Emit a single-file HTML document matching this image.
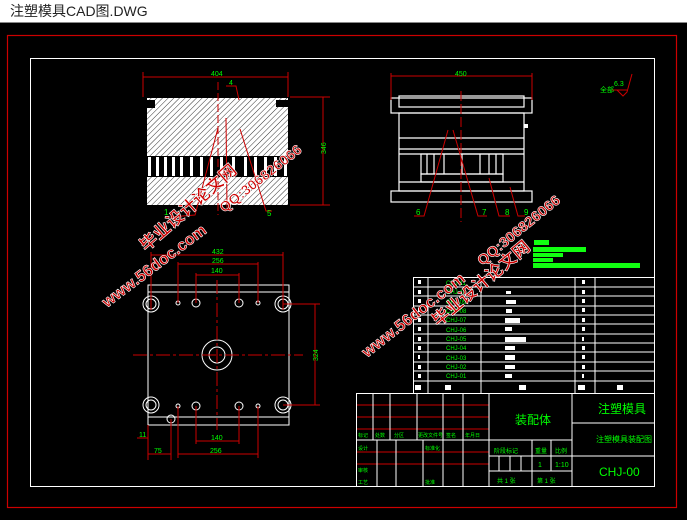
<!DOCTYPE html>
<html><head><meta charset="utf-8"><style>
html,body{margin:0;padding:0;background:#000;width:687px;height:520px;overflow:hidden}
svg{display:block}
text{font-family:"Liberation Sans","Noto Sans CJK SC",sans-serif}
</style></head><body>
<svg width="687" height="520" viewBox="0 0 687 520" xmlns="http://www.w3.org/2000/svg">
<defs>
<pattern id="h" width="4" height="4" patternUnits="userSpaceOnUse" patternTransform="rotate(45)">
<rect width="4" height="4" fill="#fff"/><line x1="0" y1="0" x2="0" y2="4" stroke="#000" stroke-width="0.8"/>
</pattern>
</defs>
<rect x="0" y="0" width="687" height="22" fill="#fff"/>
<line x1="0" y1="22.5" x2="687" y2="22.5" stroke="#888"/>
<text x="10" y="16" font-size="14" fill="#222">注塑模具CAD图.DWG</text>
<rect x="0" y="23" width="687" height="497" fill="#000"/>
<rect x="7.5" y="35.5" width="669" height="472" fill="none" stroke="#c00" stroke-width="1.2"/>
<rect x="30.5" y="58.5" width="624" height="428" fill="none" stroke="#fff"/>

<!-- section view -->
<g>
<rect x="147" y="98" width="141" height="58" fill="url(#h)"/>
<rect x="147" y="156" width="141" height="21" fill="#000"/>
<g fill="#fff">
<rect x="148" y="157" width="3" height="19"/><rect x="156" y="157" width="3" height="19"/><rect x="164" y="157" width="3" height="19"/><rect x="172" y="157" width="3" height="19"/><rect x="180" y="157" width="3" height="19"/><rect x="190" y="157" width="3" height="19"/><rect x="200" y="157" width="3" height="19"/><rect x="210" y="157" width="3" height="19"/><rect x="220" y="157" width="3" height="19"/><rect x="232" y="157" width="3" height="19"/><rect x="244" y="157" width="3" height="19"/><rect x="254" y="157" width="3" height="19"/><rect x="264" y="157" width="3" height="19"/><rect x="274" y="157" width="3" height="19"/><rect x="284" y="157" width="3" height="19"/>
</g>
<rect x="147" y="177" width="141" height="28" fill="url(#h)"/>
<rect x="147" y="100" width="8" height="8" fill="#000"/>
<rect x="276" y="100" width="12" height="7" fill="#000"/>
</g>
<g stroke="#c00" stroke-width="1" fill="none">
<line x1="143" y1="72" x2="143" y2="97"/><line x1="288" y1="72" x2="288" y2="97"/>
<line x1="143" y1="77" x2="288" y2="77"/>
<line x1="290" y1="97" x2="330" y2="97"/><line x1="290" y1="205" x2="330" y2="205"/>
<line x1="323" y1="97" x2="323" y2="205"/>
<line x1="218" y1="82" x2="218" y2="215" stroke-dasharray="8,3"/>
<path d="M226,86 L236,86 L239,100"/>
<path d="M218,128 L195,215 L170,217"/>
<path d="M240,129 L266,211 L272,211"/>
<path d="M226,118 L227,208"/>
</g>
<text x="211" y="76" font-size="7" fill="#0f0">404</text>
<text x="229" y="85" font-size="7" fill="#0f0">4</text>
<text x="326" y="154" font-size="7" fill="#0f0" transform="rotate(-90 326 154)" >346</text>
<text x="164" y="215" font-size="8" fill="#0f0">1</text>
<text x="267" y="216" font-size="8" fill="#0f0">5</text>

<!-- right view -->
<g stroke="#fff" stroke-width="1.2" fill="none">
<rect x="391" y="98" width="141" height="15"/>
<rect x="399" y="96" width="125" height="11"/>
<rect x="399" y="113" width="125" height="78"/>
<line x1="399" y1="138" x2="524" y2="138"/>
<line x1="399" y1="149" x2="524" y2="149"/>
<line x1="399" y1="154" x2="524" y2="154"/>
<rect x="421" y="154" width="82" height="20"/>
<line x1="427" y1="154" x2="427" y2="174"/><line x1="434" y1="154" x2="434" y2="174"/><line x1="444" y1="154" x2="444" y2="174"/>
<line x1="462" y1="154" x2="462" y2="174"/><line x1="480" y1="154" x2="480" y2="174"/><line x1="489" y1="154" x2="489" y2="174"/><line x1="496" y1="154" x2="496" y2="174"/>
<rect x="421" y="174" width="82" height="8"/>
<line x1="399" y1="182" x2="524" y2="182"/>
<rect x="391" y="191" width="141" height="11"/>
</g>
<rect x="524" y="124" width="4" height="4" fill="#fff"/>
<g stroke="#c00" stroke-width="1" fill="none">
<line x1="391" y1="73" x2="391" y2="100"/><line x1="532" y1="73" x2="532" y2="100"/>
<line x1="391" y1="76" x2="532" y2="76"/>
<line x1="461" y1="91" x2="461" y2="222" stroke-dasharray="10,3"/>
<path d="M448,130 L424,216 L414,216"/>
<path d="M453,130 L478,216 L487,216"/>
<path d="M489,178 L499,216 L510,216"/>
<path d="M510,187 L518,216 L525,216"/>
<path d="M617,90 L623,96 L627,92 L632,74"/>
<line x1="612" y1="90" x2="627" y2="90"/>
</g>
<text x="455" y="76" font-size="7" fill="#0f0">450</text>
<text x="416" y="215" font-size="8" fill="#0f0">6</text>
<text x="482" y="215" font-size="8" fill="#0f0">7</text>
<text x="505" y="215" font-size="8" fill="#0f0">8</text>
<text x="524" y="215" font-size="8" fill="#0f0">9</text>
<text x="600" y="92" font-size="7" fill="#0f0">全部</text>
<text x="614" y="86" font-size="7" fill="#0f0">6.3</text>
<g fill="#1f1">
<rect x="534" y="240" width="15" height="5"/>
<rect x="533" y="247" width="53" height="5"/>
<rect x="533" y="253" width="30" height="4"/>
<rect x="533" y="258" width="20" height="4"/>
<rect x="533" y="263" width="107" height="5"/>
</g>

<!-- plan view -->
<g stroke="#fff" stroke-width="1" fill="none">
<rect x="148" y="285" width="141" height="140"/>
<line x1="148" y1="292" x2="289" y2="292"/>
<line x1="148" y1="417" x2="289" y2="417"/>
<circle cx="151" cy="304" r="8"/><circle cx="151" cy="304" r="5"/>
<circle cx="283" cy="304" r="8"/><circle cx="283" cy="304" r="5"/>
<circle cx="151" cy="405" r="8"/><circle cx="151" cy="405" r="5"/>
<circle cx="283" cy="405" r="8"/><circle cx="283" cy="405" r="5"/>
<circle cx="217" cy="355" r="15"/><circle cx="217" cy="355" r="8"/>
<circle cx="178" cy="303" r="2"/><circle cx="196" cy="303" r="4"/><circle cx="239" cy="303" r="4"/><circle cx="258" cy="303" r="2"/>
<circle cx="178" cy="406" r="2"/><circle cx="196" cy="406" r="4"/><circle cx="239" cy="406" r="4"/><circle cx="258" cy="406" r="2"/>
<circle cx="171" cy="419" r="4"/>
</g>
<g stroke="#c00" stroke-width="1" fill="none">
<line x1="133" y1="355" x2="303" y2="355" stroke-dasharray="14,3,3,3"/>
<line x1="217" y1="280" x2="217" y2="430" stroke-dasharray="14,3,3,3"/>
<line x1="151" y1="252" x2="151" y2="310"/><line x1="283" y1="252" x2="283" y2="310"/>
<line x1="151" y1="255" x2="283" y2="255"/>
<line x1="178" y1="262" x2="178" y2="303"/><line x1="258" y1="262" x2="258" y2="303"/>
<line x1="178" y1="264" x2="258" y2="264"/>
<line x1="196" y1="273" x2="196" y2="303"/><line x1="239" y1="273" x2="239" y2="303"/>
<line x1="196" y1="275" x2="239" y2="275"/>
<line x1="283" y1="304" x2="320" y2="304"/><line x1="283" y1="405" x2="320" y2="405"/>
<line x1="315" y1="304" x2="315" y2="405"/>
<line x1="196" y1="406" x2="196" y2="444"/><line x1="239" y1="406" x2="239" y2="444"/>
<line x1="196" y1="441" x2="239" y2="441"/>
<line x1="178" y1="406" x2="178" y2="458"/><line x1="258" y1="406" x2="258" y2="458"/>
<line x1="178" y1="454" x2="258" y2="454"/>
<line x1="148" y1="425" x2="148" y2="460"/><line x1="171" y1="419" x2="171" y2="460"/>
<line x1="148" y1="454" x2="171" y2="454"/>
<line x1="137" y1="438" x2="148" y2="438"/>
</g>
<g font-size="7" fill="#0f0">
<text x="212" y="254">432</text><text x="212" y="263">256</text><text x="211" y="273">140</text>
<text x="211" y="440">140</text><text x="210" y="453">256</text><text x="154" y="453">75</text>
<text x="139" y="437">11</text>
<text x="318" y="361" transform="rotate(-90 318 361)">324</text>
</g>

<!-- parts list -->
<g stroke="#fff" stroke-width="1" fill="none">
<rect x="413.5" y="277.5" width="241" height="116"/>
<line x1="428" y1="277" x2="428" y2="393"/><line x1="481" y1="277" x2="481" y2="393"/>
<line x1="575" y1="277" x2="575" y2="393"/><line x1="595" y1="277" x2="595" y2="393"/>
<line x1="413" y1="287" x2="655" y2="287"/><line x1="413" y1="296" x2="655" y2="296"/>
<line x1="413" y1="306" x2="655" y2="306"/><line x1="413" y1="315" x2="655" y2="315"/>
<line x1="413" y1="324" x2="655" y2="324"/><line x1="413" y1="334" x2="655" y2="334"/>
<line x1="413" y1="343" x2="655" y2="343"/><line x1="413" y1="352" x2="655" y2="352"/>
<line x1="413" y1="362" x2="655" y2="362"/><line x1="413" y1="371" x2="655" y2="371"/>
<line x1="413" y1="381" x2="655" y2="381"/>
</g>
<g fill="#fff">
<rect x="418" y="280" width="3" height="4"/><rect x="418" y="290" width="3" height="4"/><rect x="418" y="299" width="3" height="4"/><rect x="418" y="308" width="3" height="4"/><rect x="418" y="318" width="3" height="4"/><rect x="418" y="327" width="3" height="4"/><rect x="418" y="337" width="3" height="4"/><rect x="418" y="346" width="3" height="4"/><rect x="418" y="355" width="2" height="4"/><rect x="418" y="365" width="3" height="4"/><rect x="418" y="374" width="3" height="4"/>
<rect x="582" y="280" width="3" height="4"/><rect x="582" y="290" width="3" height="4"/><rect x="582" y="299" width="3" height="4"/><rect x="582" y="308" width="3" height="4"/><rect x="582" y="318" width="3" height="4"/><rect x="582" y="327" width="3" height="4"/><rect x="582" y="337" width="2" height="4"/><rect x="582" y="346" width="3" height="4"/><rect x="582" y="355" width="3" height="4"/><rect x="582" y="365" width="3" height="4"/><rect x="582" y="374" width="2" height="4"/>
<rect x="506" y="291" width="5" height="3"/><rect x="506" y="300" width="10" height="4"/><rect x="506" y="309" width="6" height="4"/><rect x="505" y="318" width="15" height="5"/><rect x="505" y="327" width="7" height="4"/><rect x="505" y="337" width="21" height="5"/><rect x="505" y="346" width="10" height="4"/><rect x="505" y="355" width="10" height="5"/><rect x="505" y="365" width="10" height="4"/><rect x="505" y="374" width="7" height="4"/>
<rect x="415" y="385" width="6" height="5"/><rect x="445" y="385" width="6" height="5"/><rect x="519" y="385" width="7" height="5"/><rect x="578" y="385" width="7" height="5"/><rect x="617" y="385" width="6" height="5"/>
</g>
<g font-size="6" fill="#0f0">
<text x="446" y="285">CHJ-11</text><text x="446" y="294">CHJ-10</text><text x="446" y="304">CHJ-09</text><text x="446" y="313">CHJ-08</text><text x="446" y="322">CHJ-07</text><text x="446" y="332">CHJ-06</text><text x="446" y="341">CHJ-05</text><text x="446" y="350">CHJ-04</text><text x="446" y="360">CHJ-03</text><text x="446" y="369">CHJ-02</text><text x="446" y="378">CHJ-01</text>
</g>

<!-- title block -->
<g stroke="#c00" stroke-width="1">
<line x1="356" y1="405" x2="489" y2="405"/><line x1="356" y1="417" x2="489" y2="417"/><line x1="356" y1="429" x2="489" y2="429"/>
<line x1="356" y1="452" x2="489" y2="452"/><line x1="356" y1="464" x2="489" y2="464"/>
</g>
<g stroke="#fff" stroke-width="1" fill="none">
<rect x="356.5" y="393.5" width="298" height="93"/>
<line x1="489" y1="393" x2="489" y2="487"/><line x1="572" y1="393" x2="572" y2="487"/>
<line x1="373" y1="393" x2="373" y2="440"/><line x1="390" y1="393" x2="390" y2="440"/><line x1="417" y1="393" x2="417" y2="440"/><line x1="443" y1="393" x2="443" y2="440"/><line x1="463" y1="393" x2="463" y2="440"/>
<line x1="356" y1="440" x2="572" y2="440"/>
<line x1="377" y1="440" x2="377" y2="487"/><line x1="396" y1="440" x2="396" y2="487"/><line x1="423" y1="440" x2="423" y2="487"/><line x1="443" y1="440" x2="443" y2="487"/><line x1="463" y1="440" x2="463" y2="487"/>
<line x1="532" y1="440" x2="532" y2="487"/><line x1="551" y1="440" x2="551" y2="471"/>
<line x1="489" y1="456" x2="572" y2="456"/><line x1="489" y1="471" x2="572" y2="471"/>
<line x1="499" y1="456" x2="499" y2="471"/><line x1="510" y1="456" x2="510" y2="471"/><line x1="521" y1="456" x2="521" y2="471"/>
<line x1="572" y1="423" x2="655" y2="423"/><line x1="572" y1="456" x2="655" y2="456"/>
</g>
<g fill="#0f0" font-family="Liberation Sans,Noto Sans CJK SC,sans-serif">
<text x="515" y="424" font-size="12">装配体</text>
<text x="598" y="413" font-size="12">注塑模具</text>
<text x="596" y="442" font-size="8">注塑模具装配图</text>
<text x="599" y="476" font-size="12">CHJ-00</text>
<text x="494" y="453" font-size="6">阶段标记</text><text x="535" y="453" font-size="6">重量</text><text x="555" y="453" font-size="6">比例</text>
<text x="538" y="467" font-size="7">1</text><text x="555" y="467" font-size="7">1:10</text>
<text x="497" y="483" font-size="6">共 1 张</text><text x="537" y="483" font-size="6">第 1 张</text>
<text x="358" y="437" font-size="5">标记</text><text x="375" y="437" font-size="5">处数</text><text x="394" y="437" font-size="5">分区</text><text x="418" y="437" font-size="5">更改文件号</text><text x="446" y="437" font-size="5">签名</text><text x="465" y="437" font-size="5">年月日</text>
<text x="358" y="450" font-size="5">设计</text><text x="425" y="450" font-size="5">标准化</text>
<text x="358" y="472" font-size="5">审核</text><text x="358" y="484" font-size="5">工艺</text><text x="425" y="484" font-size="5">批准</text>
</g>

<!-- watermarks -->
<g fill="#c00" stroke="#fff" stroke-width="0.6" font-weight="bold" font-family="Liberation Sans,Noto Sans CJK SC,sans-serif">
<text x="0" y="0" font-size="16" textLength="126" lengthAdjust="spacingAndGlyphs" transform="translate(107,308) rotate(-37)">www.56doc.com</text>
<text x="0" y="0" font-size="17" textLength="122" lengthAdjust="spacingAndGlyphs" transform="translate(146,252) rotate(-41)">毕业设计论文网</text>
<text x="0" y="0" font-size="14" textLength="100" lengthAdjust="spacingAndGlyphs" transform="translate(224,213) rotate(-38)">QQ:306826066</text>
<text x="0" y="0" font-size="16" textLength="126" lengthAdjust="spacingAndGlyphs" transform="translate(367,358) rotate(-38)">www.56doc.com</text>
<text x="0" y="0" font-size="17" textLength="122" lengthAdjust="spacingAndGlyphs" transform="translate(438,327) rotate(-40)">毕业设计论文网</text>
<text x="0" y="0" font-size="14" textLength="102" lengthAdjust="spacingAndGlyphs" transform="translate(482,266) rotate(-39)">QQ:306826066</text>
</g>
</svg>
</body></html>
